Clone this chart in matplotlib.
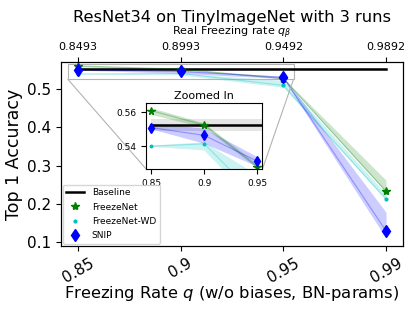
import numpy as np
import matplotlib.pyplot as plt
from mpl_toolkits.axes_grid1.inset_locator import mark_inset

# freezing rates (categorical positions on the x axis)
rates = ['0.85', '0.9', '0.95', '0.99']
real_rates = ['0.8493', '0.8993', '0.9492', '0.9892']

# baseline accuracy and its spread
baseline = 0.5525
baseline_lo = 0.549
baseline_hi = 0.556

# mean accuracy and the min / max band for each method
freezenet = [0.561, 0.5525, 0.528, 0.233]
freezenet_lo = [0.5585, 0.551, 0.527, 0.230]
freezenet_hi = [0.5625, 0.5535, 0.5295, 0.262]

freezenet_wd = [0.540, 0.5414, 0.510, 0.212]
freezenet_wd_lo = [0.5396, 0.5375, 0.505, 0.210]
freezenet_wd_hi = [0.5404, 0.5423, 0.523, 0.226]

snip = [0.551, 0.5464, 0.5312, 0.129]
snip_lo = [0.5500, 0.5415, 0.528, 0.110]
snip_hi = [0.5533, 0.5504, 0.5337, 0.178]

x = np.arange(len(rates))

fig = plt.figure(figsize=(4.15, 3.12), dpi=100)
ax = fig.add_axes([0.147, 0.212, 0.824, 0.589])


def draw(a, ms_scale=1.0):
    a.plot(x, [baseline] * len(x), color='k', lw=1.8, label='Baseline')
    a.fill_between(x, baseline_lo, baseline_hi, color='0.5', alpha=0.2, lw=0)
    series = [
        (freezenet, freezenet_lo, freezenet_hi, 'g', '*', 'FreezeNet', 6),
        (freezenet_wd, freezenet_wd_lo, freezenet_wd_hi, 'c', '.', 'FreezeNet-WD', 4),
        (snip, snip_lo, snip_hi, 'b', 'd', 'SNIP', 6),
    ]
    for mean, lo, hi, c, m, name, ms in series:
        a.plot(x, mean, color=c, lw=0.8, alpha=0.3)
        a.fill_between(x, lo, hi, color=c, alpha=0.2, lw=0)
        a.plot(x, mean, ls='none', marker=m, color=c, ms=ms * ms_scale, label=name)


draw(ax)
ax.set_xlim(-0.165, 3.165)
ax.set_ylim(0.09, 0.571)
ax.set_xticks(x)
ax.set_xticklabels(rates, rotation=30, fontsize=11)
ax.set_yticks([0.1, 0.2, 0.3, 0.4, 0.5])
ax.set_yticklabels(['0.1', '0.2', '0.3', '0.4', '0.5'], fontsize=11)
ax.set_xlabel('Freezing Rate $q$ (w/o biases, BN-params)', fontsize=11.8, labelpad=-1)
ax.set_ylabel('Top 1 Accuracy', fontsize=12.5, labelpad=3)
ax.legend(loc='lower left', fontsize=6.5, borderaxespad=0.2, labelspacing=0.6)

# top axis with the real freezing rates
top = ax.twiny()
top.set_xlim(ax.get_xlim())
top.set_xticks(x)
top.set_xticklabels(real_rates, fontsize=8)
top.set_xlabel(r'Real Freezing rate $q_\beta$', fontsize=8, labelpad=5)
top.set_title('ResNet34 on TinyImageNet with 3 runs', fontsize=11.7, pad=1)

# zoomed inset
axins = ax.inset_axes([0.249, 0.418, 0.340, 0.359])
draw(axins, 0.9)
axins.set_xlim(-0.1, 2.1)
axins.set_ylim(0.5265, 0.5655)
axins.set_xticks([0, 1, 2])
axins.set_xticklabels(rates[:3], fontsize=6.5)
axins.set_yticks([0.54, 0.56])
axins.set_yticklabels(['0.54', '0.56'], fontsize=6.5)
axins.set_title('Zoomed In', fontsize=8, pad=3)
mark_inset(ax, axins, loc1=3, loc2=4, fc='none', ec='0.7', lw=0.8)

fig.savefig('out.png', dpi=100)
